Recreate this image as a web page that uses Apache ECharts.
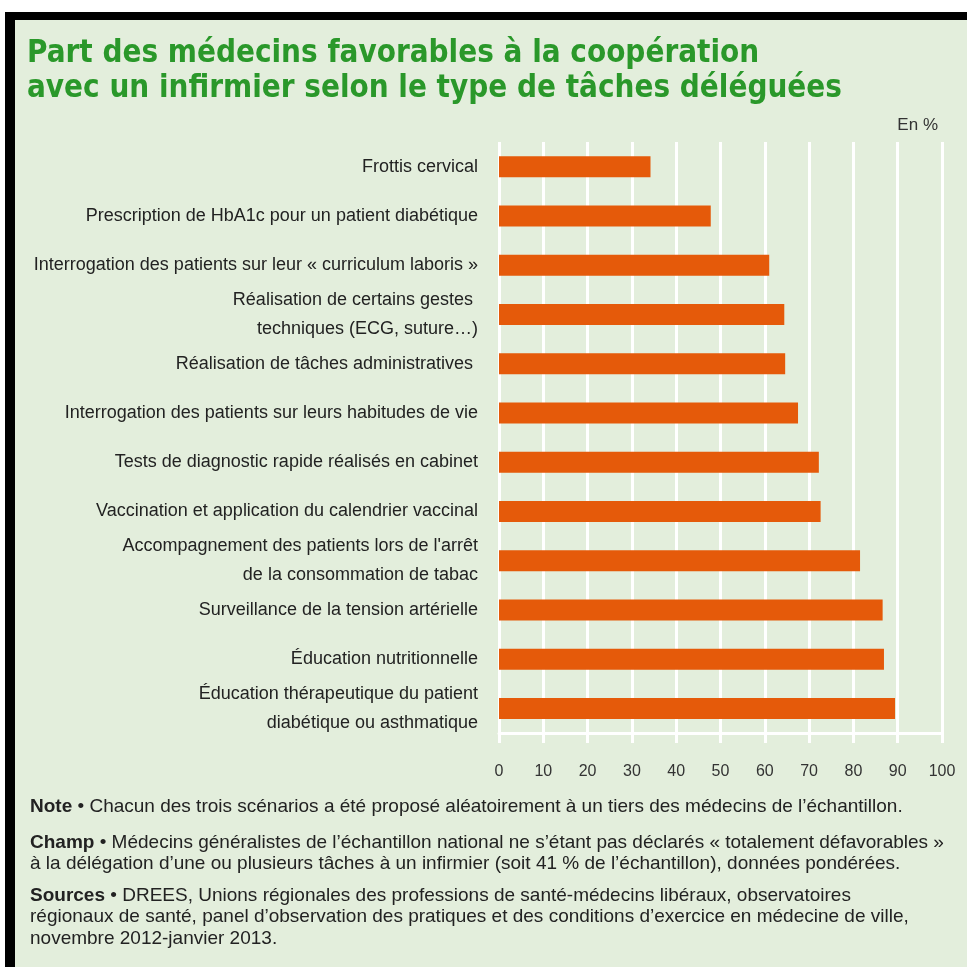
<!DOCTYPE html>
<html>
<head>
<meta charset="utf-8">
<script src="https://cdn.jsdelivr.net/npm/echarts@6/dist/echarts.min.js"></script>
<style>
html,body{margin:0;padding:0;background:#fff;}
#c{width:967px;height:967px;}
</style>
</head>
<body>
<div id="c"></div>
<script>
const categories = [
  "Frottis cervical",
  "Prescription de HbA1c pour un patient diabétique",
  "Interrogation des patients sur leur « curriculum laboris »",
  "Réalisation de certains gestes \ntechniques (ECG, suture…)",
  "Réalisation de tâches administratives ",
  "Interrogation des patients sur leurs habitudes de vie",
  "Tests de diagnostic rapide réalisés en cabinet",
  "Vaccination et application du calendrier vaccinal",
  "Accompagnement des patients lors de l'arrêt\nde la consommation de tabac",
  "Surveillance de la tension artérielle",
  "Éducation nutritionnelle",
  "Éducation thérapeutique du patient\ndiabétique ou asthmatique"
];
const values = [34.2, 47.8, 61.0, 64.4, 64.6, 67.5, 72.2, 72.6, 81.5, 86.6, 86.9, 89.4];
const titleLines = ["Part des médecins favorables à la coopération", "avec un infirmier selon le type de tâches déléguées"];
const unitText = "En %";
const notes = [
  {b: "Note", t: " • Chacun des trois scénarios a été proposé aléatoirement à un tiers des médecins de l’échantillon."},
  {b: "Champ", t: " • Médecins généralistes de l’échantillon national ne s’étant pas déclarés « totalement défavorables »\nà la délégation d’une ou plusieurs tâches à un infirmier (soit 41 % de l’échantillon), données pondérées."},
  {b: "Sources", t: " • DREES, Unions régionales des professions de santé-médecins libéraux, observatoires\nrégionaux de santé, panel d’observation des pratiques et des conditions d’exercice en médecine de ville,\nnovembre 2012-janvier 2013."}
];

const F = "'Liberation Sans', Arial, sans-serif";
const TF = "'DejaVu Sans Condensed', 'Liberation Sans', sans-serif";

// fit title size so that line 1 spans the same width as in the reference (~732px)
const cv = document.createElement('canvas').getContext('2d');
cv.font = "bold 100px " + TF;
const w100 = cv.measureText(titleLines[0]).width;
const titleSize = Math.min(34, Math.max(24, 732 / w100 * 100));

const chart = echarts.init(document.getElementById('c'));

const noteTops = [797, 833, 886];
const graphics = [
  {type:'rect', shape:{x:5,y:12,width:962,height:955}, style:{fill:'#000'}, z:-10},
  {type:'rect', shape:{x:15,y:20,width:952,height:947}, style:{fill:'#e3eedc'}, z:-9},
  {type:'text', right: 29, top: 117, style:{text: unitText, font: "17px " + F, fill:'#333'}},
  {type:'text', left: 27, top: 36, style:{
    text: titleLines.join('\n'), font: "bold " + titleSize.toFixed(1) + "px " + TF,
    fill:'#2a982a', lineHeight: 35
  }}
];
notes.forEach((n, i) => {
  graphics.push({
    type:'text', left: 30, top: noteTops[i],
    style:{
      text: '{b|' + n.b + '}' + n.t.split('\n').map(s => '{r|' + s + '}').join('\n'),
      rich: {
        b: {font: "bold 19px " + F, fill:'#222', lineHeight: 21.5},
        r: {font: "19px " + F, fill:'#222', lineHeight: 21.5}
      }
    }
  });
});

chart.setOption({
  backgroundColor: '#ffffff',
  animation: false,
  graphic: graphics,
  grid: {left: 499, right: 25, top: 142, bottom: 234},
  xAxis: {
    type: 'value', min: 0, max: 100, interval: 10,
    axisLine: {show: true, lineStyle: {color: '#ffffff', width: 3}},
    axisTick: {show: true, length: 10, lineStyle: {color: '#ffffff', width: 3}},
    splitLine: {show: true, lineStyle: {color: '#ffffff', width: 3}},
    axisLabel: {color: '#333', fontFamily: F, fontSize: 16, margin: 31}
  },
  yAxis: {
    type: 'category', data: categories, inverse: true,
    axisLine: {show: false}, axisTick: {show: false},
    axisLabel: {color: '#222', fontFamily: F, fontSize: 18, margin: 21, lineHeight: 29}
  },
  series: [{
    type: 'bar', data: values, barWidth: 21,
    itemStyle: {color: '#e55a0a'}
  }]
});
</script>
</body>
</html>
